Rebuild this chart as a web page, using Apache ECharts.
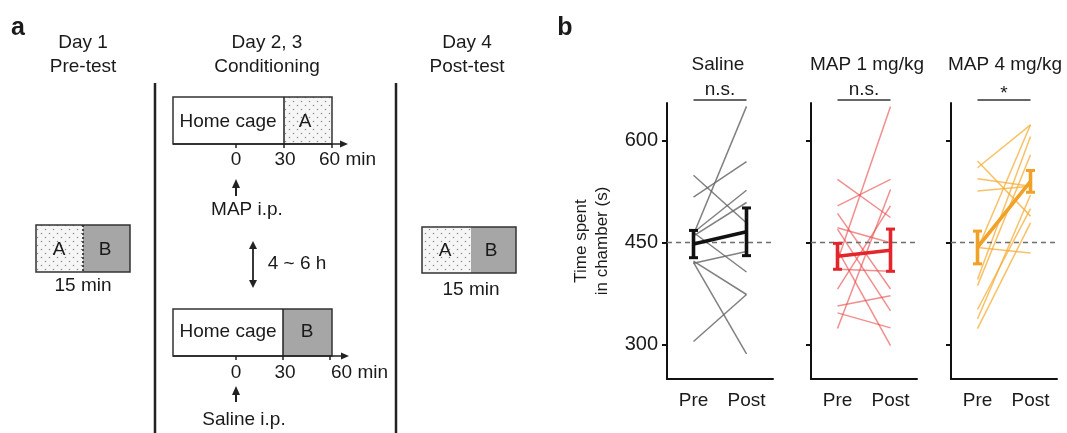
<!DOCTYPE html>
<html>
<head>
<meta charset="utf-8">
<script src="https://cdn.jsdelivr.net/npm/echarts@6/dist/echarts.min.js"></script>
<style>
html,body{margin:0;padding:0;background:#fff;}
#c{width:1067px;height:433px;}
</style>
</head>
<body>
<div id="c"></div>
<script>
// ---------------- data ----------------
const groups = ['Saline', 'MAP 1 mg/kg', 'MAP 4 mg/kg'];
const phases = ['Pre', 'Post'];
const yTicks = [300, 450, 600];
const chanceLevel = 450;
const sigLabels = ['n.s.', 'n.s.', '*'];

const salinePre  = [305, 549, 517, 462, 465, 460, 420, 465, 421, 423];
const salinePost = [374, 479, 569, 650, 527, 509, 437, 407, 287, 374];
const map1Pre    = [423, 543, 504, 493, 472, 440, 357, 347, 324, 382, 411, 470];
const map1Post   = [650, 487, 543, 382, 450, 299, 372, 325, 528, 504, 408, 350];
const map4Pre    = [570, 560, 544, 526, 443, 440, 396, 387, 352, 338, 324];
const map4Post   = [489, 623, 533, 533, 435, 623, 606, 579, 500, 520, 479];

const salineMean = [448, 466];
const salineErr  = [20, 35];
const map1Mean   = [430, 439];
const map1Err    = [19, 31];
const map4Mean   = [443, 540];
const map4Err    = [24, 16];

// ---------------- styling ----------------
const FONT = "'Liberation Sans', Arial, Helvetica, sans-serif";
const TXT = '#1a1a1a';
const indivColor = ['rgba(100,100,100,0.82)', 'rgba(232,72,72,0.62)', 'rgba(246,172,52,0.75)'];
const meanColor = ['#111111', '#e3262b', '#f2a127'];
const gridLeft = [667, 811, 951];
const GT = 103, GH = 276, GW = 106;

const pres = [salinePre, map1Pre, map4Pre];
const posts = [salinePost, map1Post, map4Post];
const means = [salineMean, map1Mean, map4Mean];
const errs = [salineErr, map1Err, map4Err];

const grids = [], xAxes = [], yAxes = [], series = [];
for (let k = 0; k < 3; k++) {
  grids.push({left: gridLeft[k], top: GT, width: GW, height: GH});
  xAxes.push({
    type: 'category', gridIndex: k, data: phases, boundaryGap: true,
    axisLine: {lineStyle: {color: '#111', width: 2}},
    axisTick: {alignWithLabel: true, length: 5, lineStyle: {color: '#111', width: 2}},
    axisLabel: {color: TXT, fontSize: 19, fontFamily: FONT, margin: 12}
  });
  yAxes.push({
    type: 'value', gridIndex: k, min: 250, max: 655,
    splitLine: {show: false},
    axisLine: {show: true, lineStyle: {color: '#111', width: 2}},
    axisTick: {show: true, length: 5, customValues: yTicks, lineStyle: {color: '#111', width: 2}},
    axisLabel: {show: k === 0, customValues: yTicks, color: TXT, fontSize: 20, fontFamily: FONT, margin: 9},
    name: k === 0 ? 'Time spent\nin chamber (s)' : '',
    nameLocation: 'middle', nameRotate: 90, nameGap: 54,
    nameTextStyle: {color: TXT, fontSize: 17, fontFamily: FONT, lineHeight: 21}
  });
  // chance-level dashed reference line
  series.push({
    type: 'line', xAxisIndex: k, yAxisIndex: k, data: [], silent: true,
    markLine: {silent: true, symbol: 'none', label: {show: false},
      lineStyle: {type: [5, 4], color: '#6e6e6e', width: 1.3},
      data: [{yAxis: chanceLevel}]}
  });
  for (let i = 0; i < pres[k].length; i++) {
    series.push({
      type: 'line', xAxisIndex: k, yAxisIndex: k, silent: true, symbol: 'none', z: 3,
      data: [pres[k][i], posts[k][i]],
      lineStyle: {width: 1.5, color: indivColor[k]}
    });
  }
  series.push({
    type: 'line', xAxisIndex: k, yAxisIndex: k, silent: true, symbol: 'none', z: 6,
    data: means[k], lineStyle: {width: 3.6, color: meanColor[k]}
  });
  const col = meanColor[k];
  series.push({
    type: 'custom', xAxisIndex: k, yAxisIndex: k, silent: true, z: 7,
    data: means[k].map((m, j) => [j, m - errs[k][j], m + errs[k][j]]),
    encode: {x: 0, y: [1, 2]},
    renderItem: function (params, api) {
      const lo = api.coord([api.value(0), api.value(1)]);
      const hi = api.coord([api.value(0), api.value(2)]);
      const cw = 4.5;
      const st = {stroke: col, lineWidth: 3.6};
      return {type: 'group', children: [
        {type: 'line', shape: {x1: lo[0], y1: lo[1], x2: hi[0], y2: hi[1]}, style: st},
        {type: 'line', shape: {x1: lo[0] - cw, y1: lo[1], x2: lo[0] + cw, y2: lo[1]}, style: {stroke: col, lineWidth: 3}},
        {type: 'line', shape: {x1: hi[0] - cw, y1: hi[1], x2: hi[0] + cw, y2: hi[1]}, style: {stroke: col, lineWidth: 3}}
      ]};
    }
  });
}

// ---------------- panel a schematic ----------------
function dotPattern() {
  const c = document.createElement('canvas');
  c.width = 8; c.height = 8;
  const g = c.getContext('2d');
  g.fillStyle = '#f6f6f6'; g.fillRect(0, 0, 8, 8);
  g.fillStyle = '#8c8c8c';
  g.beginPath(); g.arc(1.5, 1.5, 0.75, 0, Math.PI * 2); g.fill();
  g.beginPath(); g.arc(5.5, 5.5, 0.75, 0, Math.PI * 2); g.fill();
  return {image: c, repeat: 'repeat'};
}
const DOTS = dotPattern();
const GREY = '#a6a6a6';
function txt(s, x, y, size, opts) {
  return Object.assign({type: 'text', silent: true, style: {text: s, x: x, y: y, fill: TXT,
    font: (opts && opts.bold ? 'bold ' : '') + size + 'px ' + FONT,
    align: (opts && opts.align) || 'center', verticalAlign: 'middle'}});
}
function ln(x1, y1, x2, y2, w, dash) {
  return {type: 'line', silent: true, shape: {x1, y1, x2, y2},
    style: {stroke: '#222', lineWidth: w || 1.5, lineDash: dash || null}};
}
function rect(x, y, w, h, fill, stroke) {
  return {type: 'rect', silent: true, shape: {x, y, width: w, height: h},
    style: {fill: fill || 'none', stroke: stroke || null, lineWidth: 1.5}};
}
function tri(pts) {
  return {type: 'polygon', silent: true, shape: {points: pts}, style: {fill: '#222'}};
}
const G = [];
G.push(txt('a', 18, 28, 25, {bold: true}));
G.push(txt('b', 565, 28, 25, {bold: true}));
G.push(txt('Day 1', 83, 43, 19), txt('Pre-test', 83, 67, 19));
G.push(txt('Day 2, 3', 267, 43, 19), txt('Conditioning', 267, 67, 19));
G.push(txt('Day 4', 467, 43, 19), txt('Post-test', 467, 67, 19));
G.push(ln(155, 83, 155, 433, 2.5), ln(396, 83, 396, 433, 2.5));
// pre-test box
G.push(rect(36, 225, 47, 47, DOTS), rect(83, 225, 47, 47, GREY), rect(36, 225, 94, 47, null, '#333'),
  ln(83, 225, 83, 272, 1.6, [2, 2]));
G.push(txt('A', 59, 250, 19), txt('B', 105, 250, 19), txt('15 min', 83, 286, 19));
// post-test box
G.push(rect(422, 227, 49, 46, DOTS), rect(471, 227, 45, 46, GREY), rect(422, 227, 94, 46, null, '#333'));
G.push(txt('A', 445, 251, 19), txt('B', 491, 251, 19), txt('15 min', 471, 290, 19));
// conditioning: MAP
G.push(rect(173, 97, 111, 47, '#fff'), rect(284, 97, 48, 47, DOTS), rect(173, 97, 159, 47, null, '#333'),
  ln(284, 97, 284, 144, 1.5));
G.push(txt('Home cage', 228, 122, 19), txt('A', 305, 122, 19));
G.push(ln(173, 144, 342, 144, 1.5), tri([[340, 140.5], [348, 144], [340, 147.5]]),
  ln(236, 144, 236, 148, 1.5), ln(284, 144, 284, 148, 1.5), ln(332, 144, 332, 148, 1.5));
G.push(txt('0', 236, 160, 19), txt('30', 285, 160, 19), txt('60 min', 319, 160, 19, {align: 'left'}));
G.push(ln(236, 196, 236, 186, 2), tri([[232, 188], [236, 179], [240, 188]]));
G.push(txt('MAP i.p.', 247, 210, 19));
// interval double arrow
G.push(ln(253, 245, 253, 284, 1.8), tri([[249, 249], [253, 241], [257, 249]]), tri([[249, 280], [253, 288], [257, 280]]));
G.push(txt('4 ~ 6 h', 297, 264, 19));
// conditioning: Saline
G.push(rect(173, 309, 110, 47, '#fff'), rect(283, 309, 49, 47, GREY), rect(173, 309, 159, 47, null, '#333'),
  ln(283, 309, 283, 356, 1.5));
G.push(txt('Home cage', 228, 332, 19), txt('B', 307, 332, 19));
G.push(ln(173, 356, 343, 356, 1.5), tri([[341, 352.5], [349, 356], [341, 359.5]]),
  ln(236, 356, 236, 360, 1.5), ln(283, 356, 283, 360, 1.5), ln(330, 356, 330, 360, 1.5));
G.push(txt('0', 236, 373, 19), txt('30', 285, 373, 19), txt('60 min', 331, 373, 19, {align: 'left'}));
G.push(ln(236, 402, 236, 393, 2), tri([[232, 395], [236, 386], [240, 395]]));
G.push(txt('Saline i.p.', 244, 420, 19));
// panel b titles
const titleCenters = [718, 867, 1005];
for (let k = 0; k < 3; k++) G.push(txt(groups[k], titleCenters[k], 65, 19));

const chart = echarts.init(document.getElementById('c'), null, {renderer: 'canvas'});
chart.setOption({
  animation: false,
  backgroundColor: '#fff',
  textStyle: {fontFamily: FONT},
  grid: grids, xAxis: xAxes, yAxis: yAxes, series: series,
  graphic: {elements: G}
});

// significance brackets placed via the axes
const sig = [];
for (let k = 0; k < 3; k++) {
  const p0 = chart.convertToPixel({xAxisIndex: k, yAxisIndex: k}, [0, 655]);
  const p1 = chart.convertToPixel({xAxisIndex: k, yAxisIndex: k}, [1, 655]);
  const yb = p0[1] - 3;
  sig.push({type: 'line', silent: true, shape: {x1: p0[0], y1: yb, x2: p1[0], y2: yb}, style: {stroke: '#333', lineWidth: 1.5}});
  sig.push(txt(sigLabels[k], (p0[0] + p1[0]) / 2, sigLabels[k] === '*' ? yb - 6 : yb - 10, 19));
}
chart.setOption({graphic: {elements: G.concat(sig)}});
</script>
</body>
</html>
